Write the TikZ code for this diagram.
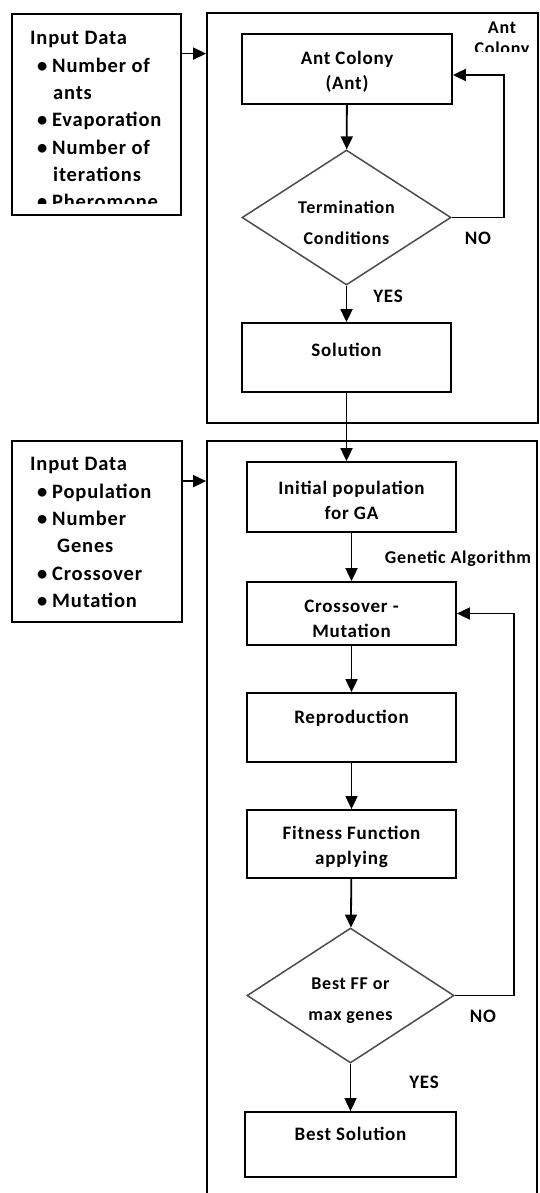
\documentclass[tikz,border=0pt]{standalone}
\usepackage{fontspec}
\setmainfont{Carlito}[LetterSpace=4]
\usetikzlibrary{shapes.geometric,arrows.meta}
\newcommand\boxfs{\fontsize{19}{25}\selectfont\bfseries}
\newcommand\dfs{\fontsize{18}{31}\selectfont\bfseries}
\newcommand\listfs{\fontsize{20.5}{27.3}\selectfont\bfseries}
\newcommand\lblfs{\fontsize{18}{21}\selectfont\bfseries}
\newcommand\bitem[1]{\hspace*{7pt}\makebox[15pt][l]{\textbullet}#1}
\newcommand\citem[1]{\hspace*{23pt}#1}
\begin{document}
\begin{tikzpicture}[x=1pt,y=-1pt,
  frame/.style={draw=black, line width=1.8pt, rectangle, inner sep=0pt},
  stepbox/.style={draw=black, line width=1.8pt, rectangle, inner sep=0pt, minimum width=209pt},
  txt/.style={align=center, font=\boxfs, inner sep=0pt},
  decide/.style={draw=black!70, line width=1.5pt, diamond, inner sep=0pt},
  dtxt/.style={align=center, font=\dfs, inner sep=0pt},
  arr/.style={line width=1.8pt, -{Triangle[length=13pt,width=12pt]}},
  lbl/.style={font=\lblfs, inner sep=0pt}]
\useasboundingbox (0,0) rectangle (540,1193);
\fill[white] (0,0) rectangle (540,1193);

% containers
\node[frame, minimum width=331pt, minimum height=410pt] (box1) at (372.5,218) {};
\node[frame, minimum width=330pt, minimum height=800pt] (box2) at (372,841) {};

% input boxes
\node[frame, minimum width=169pt, minimum height=201pt] (in1) at (96.5,114.5) {};
\node[frame, minimum width=170pt, minimum height=181pt] (in2) at (97,531.5) {};
\begin{scope}
\clip (12,14) rectangle (181,203);
\node[anchor=north west, inner sep=0pt, align=left, font=\listfs] (in1t) at (30,31.5)
 {Input Data\\\bitem{Number of}\\\citem{ants}\\\bitem{Evaporation}\\\bitem{Number of}\\\citem{iterations}\\\bitem{Pheromone}};
\end{scope}
\node[anchor=north west, inner sep=0pt, align=left, font=\listfs] (in2t) at (30,457.5)
 {Input Data\\\bitem{Population}\\\bitem{Number}\\\citem{\hspace*{4pt}Genes}\\\bitem{Crossover}\\\bitem{Mutation}};

% ant colony part
\node[stepbox, minimum width=210pt, minimum height=70pt] (ant) at (347,69) {};
\node[txt] (antt) at (347,71.5) {Ant Colony\\(Ant)};
\node[decide, minimum width=209pt, minimum height=135pt] (d1) at (346.5,217.5) {};
\node[dtxt] (d1t) at (346.5,222.5) {Termination\\Conditions};
\node[stepbox, minimum height=69pt] (sol) at (346.5,357.5) {};
\node[txt] (solt) at (346.5,349.5) {Solution};
\begin{scope}
\clip (440,14) rectangle (537,52);
\node[lbl, anchor=north, align=center] (antlbl) at (502,22) {Ant\\Colony};
\end{scope}
\node[lbl, font=\boxfs] (no1) at (478,238) {NO};
\node[lbl, font=\boxfs] (yes1) at (388,296) {YES};

% GA part
\node[stepbox, minimum height=70pt] (init) at (351.5,497) {};
\node[txt] (initt) at (351.5,500) {Initial population\\for GA};
\node[stepbox, minimum height=63pt] (cross) at (351.5,613.5) {};
\node[txt] (crosst) at (351.5,619) {Crossover -\\Mutation};
\node[stepbox, minimum height=69pt] (repro) at (351.5,727.5) {};
\node[txt] (reprot) at (351.5,718.5) {Reproduction};
\node[stepbox, minimum height=68pt] (fit) at (351.5,844) {};
\node[txt] (fitt) at (351.5,846.5) {Fitness Function\\applying};
\node[decide, minimum width=207pt, minimum height=135pt] (d2) at (350.5,995.5) {};
\node[dtxt] (d2t) at (350.5,1000.5) {Best FF or\\max genes};
\node[stepbox, minimum width=211pt, minimum height=65pt] (best) at (350.5,1144.5) {};
\node[txt] (bestt) at (350.5,1133.5) {Best Solution};
\node[lbl] (galbl) at (458,559) {Genetic Algorithm};
\node[lbl, font=\boxfs] (no2) at (483,1016) {NO};
\node[lbl, font=\boxfs] (yes2) at (424,1082) {YES};

% connectors
\draw[arr] ([yshift=-40.5pt]in1.north east) -- ([yshift=-40.5pt]in1.north east -| box1.west);
\draw[arr] ([yshift=-41pt]in2.north east) -- ([yshift=-41pt]in2.north east -| box2.west);
\draw[arr] (ant) -- (d1);
\draw[arr] (d1) -- (sol);
\draw[arr] (d1.east) -- (504,217.5) |- ([yshift=-6pt]ant.east);
\draw[arr] (sol.south) -- (sol.south |- init.north);
\draw[arr] (init) -- (cross);
\draw[arr] (cross) -- (repro);
\draw[arr] (repro) -- (fit);
\draw[arr] (fit) -- (d2);
\draw[arr] (d2) -- (best);
\draw[arr] (d2.east) -- (514,995.5) |- (cross.east);
\end{tikzpicture}
\end{document}
